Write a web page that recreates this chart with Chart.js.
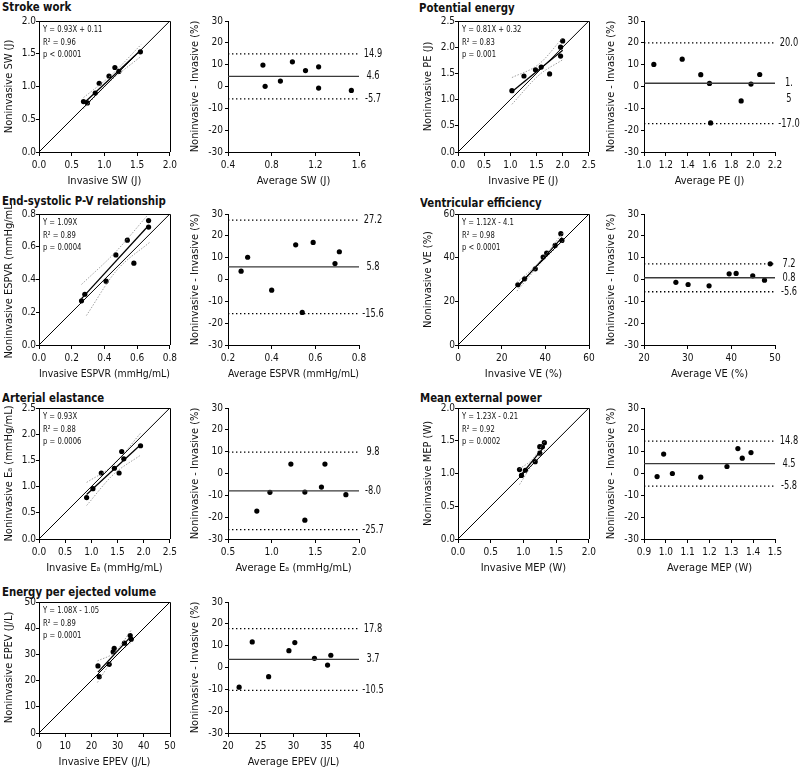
<!DOCTYPE html>
<html>
<head>
<meta charset="utf-8">
<script src="https://cdn.jsdelivr.net/npm/chart.js@4.4.1/dist/chart.umd.min.js"></script>
<style>
html, body { margin:0; padding:0; background:#fff; }
#fig { position:relative; width:800px; height:767px; overflow:hidden; }
#fig canvas { position:absolute; }
.ttl { position:absolute; font:bold 13px 'Liberation Sans Narrow','DejaVu Sans Condensed',sans-serif; color:#111; white-space:nowrap; line-height:13px; transform:scaleX(0.87); transform-origin:0 0; }
</style>
</head>
<body>
<div id="fig"></div>
<script>
// ---- data ----
// stroke work
const swInv = [0.68, 0.74, 0.86, 0.92, 1.07, 1.16, 1.22, 1.55];
const swNon = [0.77, 0.75, 0.90, 1.05, 1.16, 1.29, 1.23, 1.53];
const swFit = [[0.68, 0.74], [1.55, 1.55]];
const swHi = [[0.68, 0.83], [1.10, 1.17], [1.56, 1.64]];
const swLo = [[0.68, 0.66], [1.10, 1.09], [1.56, 1.46]];
const swAvg = [0.72, 0.74, 0.88, 0.99, 1.11, 1.23, 1.23, 1.53];
const swDiff = [9.8, 0.1, 2.5, 11.3, 7.3, 9.0, -0.7, -1.8];
const swLim = [14.9, 4.6, -5.7];
const swNotes = ['Y = 0.93X + 0.11', 'R² = 0.96', 'p < 0.0001'];

// potential energy
const peInv = [1.03, 1.26, 1.48, 1.59, 1.75, 1.96, 1.96, 2.00];
const peNon = [1.17, 1.45, 1.57, 1.62, 1.49, 1.83, 2.00, 2.12];
const peFit = [[1.03, 1.15], [2.00, 1.94]];
const peHi = [[1.03, 1.42], [1.55, 1.68], [2.00, 2.18]];
const peLo = [[1.03, 0.91], [1.55, 1.47], [2.00, 1.76]];
const peAvg = [1.09, 1.35, 1.52, 1.60, 1.61, 1.89, 1.98, 2.06];
const peDiff = [10.1, 12.5, 5.4, 1.4, -16.7, -6.6, 1.1, 5.5];
const peLim = [20.0, 1.5, -17.0];
const peLimText = ['20.0', ['1.', '5'], '-17.0'];
const peNotes = ['Y = 0.81X + 0.32', 'R² = 0.83', 'p = 0.001'];

// end-systolic P-V relationship
const esInv = [0.26, 0.28, 0.41, 0.47, 0.54, 0.58, 0.67, 0.67];
const esNon = [0.27, 0.31, 0.39, 0.55, 0.64, 0.50, 0.72, 0.76];
const esFit = [[0.26, 0.283], [0.67, 0.73]];
const esHi = [[0.26, 0.37], [0.47, 0.57], [0.67, 0.80]];
const esLo = [[0.29, 0.18], [0.47, 0.45], [0.68, 0.63]];
const esAvg = [0.26, 0.29, 0.40, 0.51, 0.54, 0.59, 0.69, 0.71];
const esDiff = [3.8, 10.2, -4.9, 15.9, -15.1, 17.0, 7.3, 12.7];
const esLim = [27.2, 5.8, -15.6];
const esNotes = ['Y = 1.09X', 'R² = 0.89', 'p = 0.0004'];

// ventricular efficiency
const veInv = [27.4, 30.5, 35.4, 39.0, 40.6, 44.5, 47.1, 47.6];
const veNon = [27.6, 30.3, 34.9, 40.3, 42.1, 45.6, 51.0, 47.9];
const veFit = [[27.4, 26.6], [47.6, 49.2]];
const veHi = [[27, 28.6], [38, 38.8], [48, 51.4]];
const veLo = [[27, 24.7], [38, 37.5], [48, 47.5]];
const veAvg = [27.3, 30.1, 34.9, 39.5, 41.1, 44.9, 47.6, 48.9];
const veDiff = [-1.3, -2.3, -2.9, 2.6, 2.8, 1.7, -0.3, 7.2];
const veLim = [7.2, 0.8, -5.6];
const veNotes = ['Y = 1.12X - 4.1', 'R² = 0.98', 'p < 0.0001'];

// arterial elastance
const eaInv = [0.91, 1.03, 1.19, 1.44, 1.53, 1.58, 1.62, 1.94];
const eaNon = [0.79, 0.96, 1.26, 1.35, 1.26, 1.67, 1.53, 1.78];
const eaFit = [[0.91, 0.85], [1.94, 1.80]];
const eaHi = [[0.91, 1.08], [1.42, 1.41], [1.94, 2.02]];
const eaLo = [[0.91, 0.64], [1.42, 1.23], [1.94, 1.60]];
const eaAvg = [0.83, 0.98, 1.22, 1.38, 1.38, 1.57, 1.61, 1.85];
const eaDiff = [-17.2, -8.6, 4.3, -8.5, -21.4, -6.2, 4.3, -9.7];
const eaLim = [9.8, -8.0, -25.7];
const eaNotes = ['Y = 0.93X', 'R² = 0.88', 'p = 0.0006'];

// mean external power
const meInv = [0.94, 0.97, 1.03, 1.18, 1.25, 1.25, 1.29, 1.32];
const meNon = [1.06, 0.97, 1.05, 1.18, 1.41, 1.31, 1.41, 1.47];
const meFit = [[0.94, 0.95], [1.32, 1.41]];
const meHi = [[0.94, 1.07], [1.14, 1.22], [1.33, 1.50]];
const meLo = [[0.94, 0.83], [1.14, 1.14], [1.33, 1.36]];
const meAvg = [0.96, 0.99, 1.03, 1.16, 1.28, 1.33, 1.35, 1.39];
const meDiff = [-1.4, 8.9, 0.0, -1.7, 3.2, 11.4, 7.0, 9.6];
const meLim = [14.8, 4.5, -5.8];
const meNotes = ['Y = 1.23X - 0.21', 'R² = 0.92', 'p = 0.0002'];

// energy per ejected volume
const epInv = [22.5, 23.0, 26.8, 28.3, 28.7, 32.6, 34.8, 35.2];
const epNon = [25.6, 21.5, 26.2, 31.0, 32.3, 34.3, 37.2, 35.8];
const epFit = [[22.5, 23.25], [35.2, 36.97]];
const epHi = [[22.3, 27.5], [29, 30.9], [35.3, 39.4]];
const epLo = [[22.3, 19.3], [29, 29.1], [35.3, 34.7]];
const epAvg = [21.7, 23.7, 26.2, 29.3, 30.2, 33.2, 35.2, 35.7];
const epDiff = [-9.0, 11.7, -4.2, 7.7, 11.4, 4.2, 1.1, 5.6];
const epLim = [17.8, 3.7, -10.5];
const epNotes = ['Y = 1.08X - 1.05', 'R² = 0.89', 'p = 0.0001'];

const baYTitle = 'Noninvasive - Invasive (%)';

// ---- layout ----
const FONT = "'Liberation Sans Narrow', 'DejaVu Sans Condensed', sans-serif";
Chart.defaults.font.family = FONT;
Chart.defaults.color = '#111';
const rowTop = [21, 214, 408, 602];
const colLeft = [{reg: 39, ba: 228}, {reg: 458, ba: 644}];
const PLOT = 131, PT = 10;

const panels = [
  {title: 'Stroke work', col: 0, row: 0, tx: 2, ty: 0,
   reg: {inv: swInv, non: swNon, fit: swFit, hi: swHi, lo: swLo, max: 2, step: 0.5, dec: 1, xt: 'Invasive SW (J)', yt: 'Noninvasive SW (J)', notes: swNotes},
   ba: {avg: swAvg, diff: swDiff, lim: swLim, min: 0.4, max: 1.6, step: 0.4, dec: 1, xt: 'Average SW (J)'}},
  {title: 'Potential energy', col: 1, row: 0, tx: 419, ty: 1,
   reg: {inv: peInv, non: peNon, fit: peFit, hi: peHi, lo: peLo, max: 2.5, step: 0.5, dec: 1, xt: 'Invasive PE (J)', yt: 'Noninvasive PE (J)', notes: peNotes},
   ba: {avg: peAvg, diff: peDiff, lim: peLim, txt: peLimText, min: 1.0, max: 2.2, step: 0.2, dec: 1, xt: 'Average PE (J)'}},
  {title: 'End-systolic P-V relationship', col: 0, row: 1, tx: 2, ty: 194,
   reg: {inv: esInv, non: esNon, fit: esFit, hi: esHi, lo: esLo, max: 0.8, step: 0.2, dec: 1, xt: 'Invasive ESPVR (mmHg/mL)', yt: 'Noninvasive ESPVR (mmHg/mL)', notes: esNotes},
   ba: {avg: esAvg, diff: esDiff, lim: esLim, min: 0.2, max: 0.8, step: 0.2, dec: 1, xt: 'Average ESPVR (mmHg/mL)'}},
  {title: 'Ventricular efficiency', col: 1, row: 1, tx: 420, ty: 196,
   reg: {inv: veInv, non: veNon, fit: veFit, hi: veHi, lo: veLo, max: 60, step: 20, dec: 0, xt: 'Invasive VE (%)', yt: 'Noninvasive VE (%)', notes: veNotes},
   ba: {avg: veAvg, diff: veDiff, lim: veLim, min: 20, max: 50, step: 10, dec: 0, xt: 'Average VE (%)'}},
  {title: 'Arterial elastance', col: 0, row: 2, tx: 2, ty: 391,
   reg: {inv: eaInv, non: eaNon, fit: eaFit, hi: eaHi, lo: eaLo, max: 2.5, step: 0.5, dec: 1, xt: 'Invasive Eₐ (mmHg/mL)', yt: 'Noninvasive Eₐ (mmHg/mL)', notes: eaNotes},
   ba: {avg: eaAvg, diff: eaDiff, lim: eaLim, min: 0.5, max: 2.0, step: 0.5, dec: 1, xt: 'Average Eₐ (mmHg/mL)'}},
  {title: 'Mean external power', col: 1, row: 2, tx: 420, ty: 391,
   reg: {inv: meInv, non: meNon, fit: meFit, hi: meHi, lo: meLo, max: 2, step: 0.5, dec: 1, xt: 'Invasive MEP (W)', yt: 'Noninvasive MEP (W)', notes: meNotes},
   ba: {avg: meAvg, diff: meDiff, lim: meLim, min: 0.9, max: 1.5, step: 0.1, dec: 1, xt: 'Average MEP (W)'}},
  {title: 'Energy per ejected volume', col: 0, row: 3, tx: 2, ty: 585,
   reg: {inv: epInv, non: epNon, fit: epFit, hi: epHi, lo: epLo, max: 50, step: 10, dec: 0, xt: 'Invasive EPEV (J/L)', yt: 'Noninvasive EPEV (J/L)', notes: epNotes},
   ba: {avg: epAvg, diff: epDiff, lim: epLim, min: 20, max: 40, step: 5, dec: 0, xt: 'Average EPEV (J/L)'}}
];

const fig = document.getElementById('fig');
const xy = (xs, ys) => xs.map((x, i) => ({x, y: ys[i]}));
const pr = arr => arr.map(([x, y]) => ({x, y}));

function addCanvas(left, top, w, h) {
  const c = document.createElement('canvas');
  c.width = w; c.height = h;
  c.style.left = left + 'px'; c.style.top = top + 'px';
  c.style.width = w + 'px'; c.style.height = h + 'px';
  fig.appendChild(c);
  return c;
}

// narrow text: the figure uses a condensed face
function fillNarrow(ctx, s, x, y, sx) {
  ctx.save();
  ctx.translate(x, y);
  ctx.scale(sx, 1);
  ctx.fillText(s, 0, 0);
  ctx.restore();
}

function axis(min, max, step, dec, horiz, yw, tickPad, title) {
  return {
    type: 'linear', min, max,
    ticks: {stepSize: step, autoSkip: false, maxRotation: 0, padding: tickPad,
            font: {size: 10}, color: '#111', callback: v => Number(v).toFixed(dec)},
    grid: {drawOnChartArea: false, drawTicks: true, tickLength: horiz ? 4 : 3, color: '#000', lineWidth: 1},
    border: {display: true, color: '#000', width: 1},
    title: {display: !!title, text: title || '', font: {size: 11}, color: '#111', padding: {top: 0, bottom: 0}},
    afterFit: s => { if (horiz) s.height = 36; else s.width = yw; }
  };
}

// y titles drawn by hand so long ones are not squeezed
function yTitle(text, gap) {
  return {id: 'ytitle', afterDraw(c) {
    const a = c.chartArea, ctx = c.ctx;
    ctx.save();
    ctx.font = '11px ' + FONT; ctx.fillStyle = '#111';
    ctx.textAlign = 'center'; ctx.textBaseline = 'middle';
    ctx.translate(a.left - gap, (a.top + a.bottom) / 2);
    ctx.rotate(-Math.PI / 2);
    ctx.fillText(text, 0, 0);
    ctx.restore();
  }};
}

function boxAndNotes(lines) {
  return {id: 'boxnotes', afterDraw(c) {
    const a = c.chartArea, ctx = c.ctx;
    ctx.save();
    ctx.strokeStyle = '#000'; ctx.lineWidth = 1;
    ctx.beginPath();
    ctx.moveTo(Math.round(a.left), Math.round(a.top) + 0.5);
    ctx.lineTo(Math.round(a.right) + 0.5, Math.round(a.top) + 0.5);
    ctx.lineTo(Math.round(a.right) + 0.5, Math.round(a.bottom));
    ctx.stroke();
    ctx.font = '9.5px ' + FONT; ctx.fillStyle = '#111';
    ctx.textAlign = 'left'; ctx.textBaseline = 'middle';
    lines.forEach((s, i) => fillNarrow(ctx, s, a.left + 4, a.top + 9 + i * 12.2, 0.8));
    ctx.restore();
  }};
}

function limLabels(values, texts) {
  return {id: 'limlabels', afterDraw(c) {
    const ctx = c.ctx, ys = c.scales.y, x = c.chartArea.right + 14;
    ctx.save();
    ctx.font = '11.5px ' + FONT; ctx.fillStyle = '#111';
    ctx.textAlign = 'center'; ctx.textBaseline = 'middle';
    values.forEach((v, i) => {
      const t = texts[i];
      const lines = Array.isArray(t) ? t : [t];
      const y = ys.getPixelForValue(v);
      lines.forEach((s, j) => fillNarrow(ctx, s, x, y + j * 15.5, 0.8));
    });
    ctx.restore();
  }};
}

const baseOpts = {animation: false, responsive: false, events: [],
  plugins: {legend: {display: false}, tooltip: {enabled: false}}};

function lineSet(data, color, width, dash, smooth) {
  return {data, showLine: true, borderColor: color, borderWidth: width, borderDash: dash || [],
          pointRadius: 0, fill: false, tension: smooth ? 0.4 : 0,
          cubicInterpolationMode: smooth ? 'monotone' : 'default'};
}

function regChart(p) {
  const r = p.reg, left = colLeft[p.col].reg, top = rowTop[p.row];
  const cv = addCanvas(left - 39, top - PT, 39 + PLOT + 10, PT + PLOT + 36);
  new Chart(cv, {
    type: 'scatter',
    data: {datasets: [
      lineSet([{x: 0, y: 0}, {x: r.max, y: r.max}], '#000', 1),
      lineSet(pr(r.hi), '#8a8a8a', 0.8, [1.5, 1.5], true),
      lineSet(pr(r.lo), '#8a8a8a', 0.8, [1.5, 1.5], true),
      lineSet(pr(r.fit), '#000', 1.3),
      {data: xy(r.inv, r.non), backgroundColor: '#000', borderWidth: 0, pointRadius: 2.6}
    ]},
    options: Object.assign({}, baseOpts, {
      layout: {padding: {top: PT, right: 10, left: 0, bottom: 0}},
      scales: {
        x: axis(0, r.max, r.step, r.dec, true, 0, 3, r.xt),
        y: axis(0, r.max, r.step, r.dec, false, 39, 0)
      }
    }),
    plugins: [yTitle(r.yt, 30), boxAndNotes(r.notes)]
  });
}

function baChart(p) {
  const b = p.ba, left = colLeft[p.col].ba, top = rowTop[p.row];
  const cv = addCanvas(left - 40, top - PT, 40 + PLOT + 34, PT + PLOT + 36);
  const texts = b.txt || b.lim.map(v => v.toFixed(1));
  new Chart(cv, {
    type: 'scatter',
    data: {datasets: [
      lineSet([{x: b.min, y: b.lim[0]}, {x: b.max, y: b.lim[0]}], '#000', 1.3, [1.4, 2.6]),
      lineSet([{x: b.min, y: b.lim[1]}, {x: b.max, y: b.lim[1]}], '#3a3a3a', 1.3),
      lineSet([{x: b.min, y: b.lim[2]}, {x: b.max, y: b.lim[2]}], '#000', 1.3, [1.4, 2.6]),
      {data: xy(b.avg, b.diff), backgroundColor: '#000', borderWidth: 0, pointRadius: 2.6}
    ]},
    options: Object.assign({}, baseOpts, {
      layout: {padding: {top: PT, right: 34, left: 0, bottom: 0}},
      scales: {
        x: axis(b.min, b.max, b.step, b.dec, true, 0, 3, b.xt),
        y: axis(-30, 30, 10, 0, false, 40, 2)
      }
    }),
    plugins: [yTitle(baYTitle, 33), limLabels(b.lim, texts)]
  });
}

panels.forEach(p => {
  const t = document.createElement('div');
  t.className = 'ttl'; t.textContent = p.title;
  t.style.left = p.tx + 'px'; t.style.top = p.ty + 'px';
  fig.appendChild(t);
  regChart(p);
  baChart(p);
});
</script>
</body>
</html>
